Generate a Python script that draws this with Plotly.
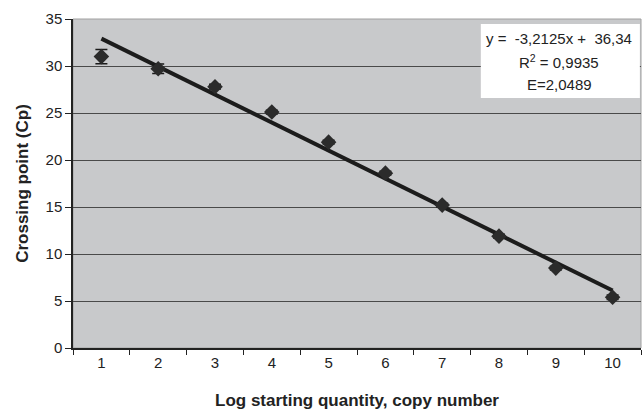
import numpy as np
import plotly.graph_objects as go

log_qty = [1, 2, 3, 4, 5, 6, 7, 8, 9, 10]
cp_mean = [31.0, 29.7, 27.8, 25.1, 21.9, 18.6, 15.2, 11.9, 8.5, 5.4]
cp_err = [0.75, 0.5, 0.25, 0.2, 0.2, 0.2, 0.2, 0.2, 0.2, 0.25]
y_ticks = [0, 5, 10, 15, 20, 25, 30, 35]
eq_text = ["y = &nbsp;-3,2125x + &nbsp;36,34", "R<sup>2</sup> = 0,9935", "E=2,0489"]

slope, intercept = np.polyfit(log_qty, cp_mean, 1)
trend_x = [log_qty[0], log_qty[-1]]
trend_y = [slope * x + intercept for x in trend_x]

FONT = "Liberation Sans, Arial, sans-serif"

fig = go.Figure()
fig.add_trace(go.Scatter(
    x=trend_x, y=trend_y, mode="lines",
    line=dict(color="#1c1c1c", width=4), showlegend=False, hoverinfo="skip"))
fig.add_trace(go.Scatter(
    x=log_qty, y=cp_mean, mode="markers",
    marker=dict(symbol="diamond", size=12, color="#2b2b2b"),
    error_y=dict(type="data", array=cp_err, visible=True, color="#1a1a1a",
                 thickness=1.5, width=6),
    showlegend=False))

ann_y = [0.942, 0.870, 0.800]
annotations = [dict(xref="paper", yref="paper", x=0.856, y=yy, xanchor="center",
                    yanchor="middle", text=t, showarrow=False,
                    font=dict(family=FONT, size=15, color="#222"))
               for t, yy in zip(eq_text, ann_y)]

fig.update_layout(
    width=643, height=411,
    margin=dict(l=73, r=2, t=19, b=63),
    paper_bgcolor="white", plot_bgcolor="#c8c9cb",
    font=dict(family=FONT, size=15, color="#222"),
    xaxis=dict(
        range=[0.5, 10.5], tickvals=log_qty, ticktext=[str(v) for v in log_qty],
        ticks="", showgrid=False, zeroline=False,
        showline=True, linecolor="#222", linewidth=1.5,
        minor=dict(tick0=0.5, dtick=1, ticks="outside", ticklen=5,
                   tickcolor="#222", tickwidth=1, showgrid=False),
        title=dict(text="<b>Log starting quantity, copy number</b>",
                   font=dict(size=17), standoff=24),
        tickfont=dict(size=15)),
    yaxis=dict(
        range=[0, 35], tickvals=y_ticks, ticks="outside", ticklen=6,
        tickcolor="#222", showgrid=True, gridcolor="#4a4a4a", gridwidth=1,
        zeroline=False, showline=True, linecolor="#222", linewidth=1.5,
        title=dict(text="<b>Crossing point (Cp)</b>", font=dict(size=17), standoff=13),
        tickfont=dict(size=15)),
    shapes=[
        dict(type="rect", xref="paper", yref="paper", x0=0, x1=1, y0=0, y1=1,
             line=dict(color="#a0a0a0", width=1), layer="below"),
        dict(type="rect", xref="paper", yref="paper", x0=0.718, x1=0.998,
             y0=0.760, y1=0.985, fillcolor="white", line=dict(width=0),
             layer="above"),
    ],
    annotations=annotations,
)

fig.write_html("out.html", config={"displayModeBar": False},
               post_script="document.body.style.margin='0';")
